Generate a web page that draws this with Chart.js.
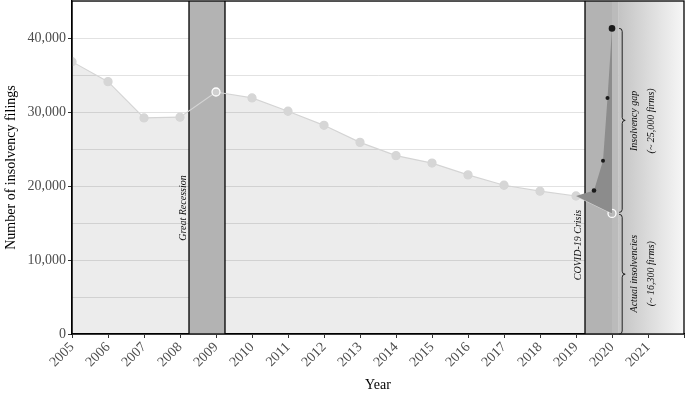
<!DOCTYPE html>
<html>
<head>
<meta charset="utf-8">
<script src="https://cdn.jsdelivr.net/npm/chart.js@4"></script>
<style>
  body { margin: 0; background: #fff; }
  #wrap { width: 685px; height: 395px; }
</style>
</head>
<body>
<div id="wrap"><canvas id="chart"></canvas></div>
<script>
// yearly insolvency filings (2020 = actual)
var years = [2005, 2006, 2007, 2008, 2009, 2010, 2011, 2012, 2013, 2014, 2015, 2016, 2017, 2018, 2019, 2020];
var filings = [36800, 34100, 29200, 29300, 32700, 31900, 30100, 28200, 25900, 24100, 23100, 21500, 20100, 19300, 18650, 16300];

// expected filings without the crisis measures
var gapYears = [2019, 2019.5, 2019.75, 2019.875, 2020];
var gapValues = [18650, 19400, 23400, 31900, 41300];

var yTicks = [0, 10000, 20000, 30000, 40000];

var recession = [2008.25, 2009.25];
var covid = [2019.25, 2020, 2020.17, 2022];

var serif = "'Liberation Serif', 'DejaVu Serif', serif";

var bands = {
    id: 'bands',
    beforeDatasetDraw: function (chart, args) {
        if (args.index !== 0) return;
        var ctx = chart.ctx, a = chart.chartArea, x = chart.scales.x;
        ctx.save();
        var r0 = x.getPixelForValue(recession[0]), r1 = x.getPixelForValue(recession[1]);
        ctx.fillStyle = '#b3b3b3';
        ctx.fillRect(r0, a.top, r1 - r0, a.bottom - a.top);

        var c0 = x.getPixelForValue(covid[0]), c1 = x.getPixelForValue(covid[1]);
        var c2 = x.getPixelForValue(covid[2]), c3 = x.getPixelForValue(covid[3]);
        ctx.fillRect(c0, a.top, c1 - c0, a.bottom - a.top);
        ctx.fillStyle = '#bbbbbb';
        ctx.fillRect(c1, a.top, c2 - c1, a.bottom - a.top);
        var g = ctx.createLinearGradient(c2, 0, c3, 0);
        g.addColorStop(0, '#c3c3c3');
        g.addColorStop(1, '#f7f7f7');
        ctx.fillStyle = g;
        ctx.fillRect(c2, a.top, c3 - c2, a.bottom - a.top);

        ctx.strokeStyle = '#000';
        ctx.lineWidth = 1.3;
        [r0, r1, c0].forEach(function (px) {
            ctx.beginPath();
            ctx.moveTo(px, a.top);
            ctx.lineTo(px, a.bottom);
            ctx.stroke();
        });
        ctx.restore();
    }
};

function brace(ctx, x0, top, bot, w) {
    var mid = (top + bot) / 2, h = w / 2;
    ctx.beginPath();
    ctx.moveTo(x0, top);
    ctx.quadraticCurveTo(x0 + h, top, x0 + h, top + h);
    ctx.lineTo(x0 + h, mid - h);
    ctx.quadraticCurveTo(x0 + h, mid, x0 + w, mid);
    ctx.quadraticCurveTo(x0 + h, mid, x0 + h, mid + h);
    ctx.lineTo(x0 + h, bot - h);
    ctx.quadraticCurveTo(x0 + h, bot, x0, bot);
    ctx.stroke();
}

function vtext(ctx, txt, x, y) {
    ctx.save();
    ctx.translate(x, y);
    ctx.rotate(-Math.PI / 2);
    ctx.fillText(txt, 0, 0);
    ctx.restore();
}

var notes = {
    id: 'notes',
    afterDraw: function (chart) {
        var ctx = chart.ctx, a = chart.chartArea, x = chart.scales.x, y = chart.scales.y;
        ctx.save();
        ctx.strokeStyle = '#000';
        ctx.lineWidth = 1.3;
        ctx.strokeRect(a.left, a.top, a.right - a.left, a.bottom - a.top);

        var bx = x.getPixelForValue(2020.2);
        var yTop = y.getPixelForValue(gapValues[gapValues.length - 1]);
        var yAct = y.getPixelForValue(filings[filings.length - 1]);
        var y0 = y.getPixelForValue(0);
        ctx.strokeStyle = '#222';
        ctx.lineWidth = 1;
        brace(ctx, bx, yTop, yAct - 1, 6);
        brace(ctx, bx, yAct + 1, y0, 6);

        ctx.fillStyle = '#111';
        ctx.font = 'italic 10px ' + serif;
        ctx.textAlign = 'center';
        ctx.textBaseline = 'middle';
        vtext(ctx, 'Great Recession', x.getPixelForValue(recession[0]) - 6, 208);
        vtext(ctx, 'COVID-19 Crisis', x.getPixelForValue(covid[0]) - 7, 245);
        vtext(ctx, 'Insolvency gap', bx + 15, (yTop + yAct) / 2);
        vtext(ctx, '(~ 25,000 firms)', bx + 32, (yTop + yAct) / 2);
        vtext(ctx, 'Actual insolvencies', bx + 15, (yAct + y0) / 2);
        vtext(ctx, '(~ 16,300 firms)', bx + 32, (yAct + y0) / 2);
        ctx.restore();
    }
};

var pointFill = filings.map(function (v, i) {
    if (i === 4) return '#cfcfcf';
    if (i === filings.length - 1) return 'rgba(0,0,0,0)';
    return '#d6d6d6';
});
var pointEdge = filings.map(function (v, i) {
    return (i === 4 || i === filings.length - 1) ? '#ffffff' : '#d6d6d6';
});

var ctx = document.getElementById('chart');
new Chart(ctx, {
    type: 'line',
    data: {
        datasets: [{
            label: 'Insolvency filings',
            data: years.map(function (yr, i) { return { x: yr, y: filings[i] }; }),
            borderColor: '#d4d4d4',
            borderWidth: 1.2,
            backgroundColor: 'rgba(0,0,0,0.075)',
            fill: 'origin',
            pointRadius: 4,
            pointBackgroundColor: pointFill,
            pointBorderColor: pointEdge,
            pointBorderWidth: 1.3,
            tension: 0,
            order: 2
        }, {
            label: 'Insolvency gap',
            data: gapYears.map(function (yr, i) { return { x: yr, y: gapValues[i] }; }),
            borderWidth: 0,
            borderColor: 'rgba(0,0,0,0)',
            backgroundColor: '#8c8c8c',
            fill: 0,
            pointRadius: [0, 2.3, 2, 2, 3.3],
            pointBackgroundColor: '#1a1a1a',
            pointBorderWidth: 0,
            tension: 0,
            order: 1
        }]
    },
    options: {
        responsive: true,
        maintainAspectRatio: false,
        animation: false,
        layout: { autoPadding: false, padding: { top: 1, right: 1, left: 0, bottom: 0 } },
        plugins: {
            legend: { display: false },
            tooltip: { enabled: false }
        },
        scales: {
            x: {
                type: 'linear',
                min: 2005,
                max: 2022,
                afterFit: function (s) {
                    s.height = 61;
                    s.paddingLeft = 0;
                    s.paddingRight = 0;
                },
                ticks: {
                    stepSize: 1,
                    minRotation: 45,
                    maxRotation: 45,
                    padding: 1,
                    color: '#4d4d4d',
                    font: { family: serif, size: 14 },
                    callback: function (v) { return v <= 2021 ? String(v) : ''; }
                },
                grid: {
                    drawOnChartArea: false,
                    tickLength: 4,
                    tickColor: '#333'
                },
                border: { color: '#000', width: 1.3 },
                title: {
                    display: true,
                    text: 'Year',
                    color: '#000',
                    font: { family: serif, size: 14 },
                    padding: { top: 0, bottom: 1 }
                }
            },
            y: {
                min: 0,
                max: 45000,
                afterFit: function (s) {
                    s.width = 72;
                    s.paddingTop = 0;
                    s.paddingBottom = 0;
                },
                ticks: {
                    stepSize: 5000,
                    padding: 2,
                    color: '#4d4d4d',
                    font: { family: serif, size: 14 },
                    callback: function (v) {
                        return yTicks.indexOf(v) >= 0 ? v.toLocaleString('en-US') : '';
                    }
                },
                grid: {
                    color: '#e2e2e2',
                    lineWidth: 1,
                    tickLength: 4,
                    tickColor: function (c) {
                        return yTicks.indexOf(c.tick.value) >= 0 ? '#333' : 'rgba(0,0,0,0)';
                    }
                },
                border: { color: '#000', width: 1.3 },
                title: {
                    display: true,
                    text: 'Number of insolvency filings',
                    color: '#000',
                    font: { family: serif, size: 14 },
                    padding: { top: 3, bottom: 0 }
                }
            }
        }
    },
    plugins: [bands, notes]
});
</script>
</body>
</html>
